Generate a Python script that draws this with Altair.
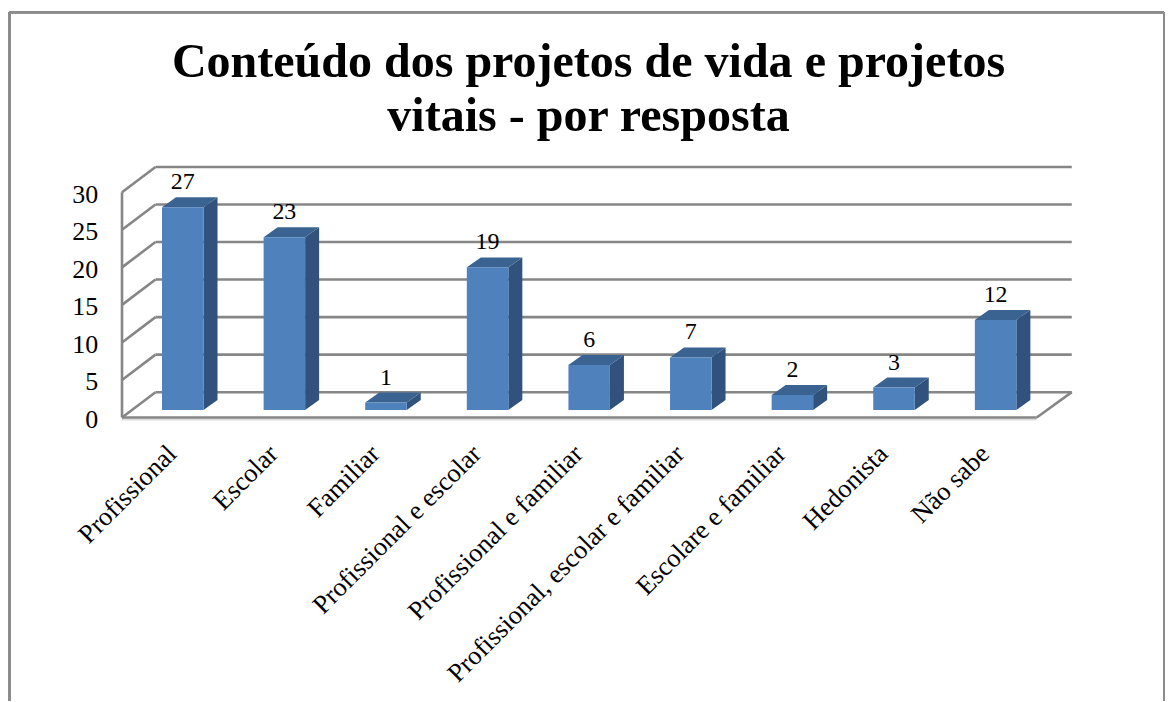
import json
import altair as alt
import pandas as pd

title_lines = ["Conteúdo dos projetos de vida e projetos", "vitais - por resposta"]
categories = ["Profissional", "Escolar", "Familiar", "Profissional e escolar",
              "Profissional e familiar", "Profissional, escolar e familiar",
              "Escolare e familiar", "Hedonista", "Não sabe"]
values = [27, 23, 1, 19, 6, 7, 2, 3, 12]
y_ticks = [0, 5, 10, 15, 20, 25, 30]

# page geometry -> scale mapping
W, H = 1161, 694
X0, PITCH = 182.75, 101.6   # page x of first bar centre, px per category
Y0, UNIT = 417.7, 7.533     # page y of value 0, px per unit
STRETCH = 0.9965
x_dom = [(8 - X0) / PITCH, (8 + W * STRETCH - X0) / PITCH]
y_dom = [(Y0 - (8 + H)) / UNIT, (Y0 - 8) / UNIT]
xs = alt.Scale(domain=x_dom, nice=False, zero=False, padding=0)
ys = alt.Scale(domain=y_dom, nice=False, zero=False, padding=0)

half = 20.75 / PITCH            # half bar width
base = 1.0                      # front face starts above floor line
ddx, ddy = 14 / PITCH, 10 / UNIT    # bar depth
wall_dx, wall_dy = 35 / PITCH, 25.4 / UNIT  # wall depth
left = (122 - X0) / PITCH
right = (1036.7 - X0) / PITCH

GRID = "#868686"
GRID_W = 2.6
FRAME = "#8C8C8C"
FONT = "Liberation Serif"

# faces
bars = pd.DataFrame({"i": range(len(values)), "cat": categories, "v": values})
bars["x0"] = bars.i - half
bars["x1"] = bars.i + half
bars["top"] = bars.v + base
bars["base"] = base
bars["label_y"] = bars.top + ddy

side = pd.concat([
    pd.DataFrame({"cat": categories, "x": bars.x1, "lo": bars.base, "hi": bars.top}),
    pd.DataFrame({"cat": categories, "x": bars.x1 + ddx, "lo": bars.base + ddy, "hi": bars.top + ddy}),
])
topf = pd.concat([
    pd.DataFrame({"cat": categories, "y": bars.top, "a": bars.x0, "b": bars.x1}),
    pd.DataFrame({"cat": categories, "y": bars.top + ddy, "a": bars.x0 + ddx, "b": bars.x1 + ddx}),
])

# walls
back = pd.DataFrame({"t": y_ticks})
back["y"] = back.t + wall_dy
back["a"] = left + 33.5 / PITCH
back["b"] = right + wall_dx
diag = pd.concat([
    pd.DataFrame({"t": y_ticks, "x": left, "y": y_ticks}),
    pd.DataFrame({"t": y_ticks, "x": left + 33.5 / PITCH, "y": [t + wall_dy for t in y_ticks]}),
])
floor_r = pd.DataFrame({"x": [right, right + wall_dx], "y": [0, wall_dy]})
front = pd.DataFrame({"a": [left], "b": [right], "y": [0], "y2": [30]})

X = lambda f: alt.X(f, type="quantitative", scale=xs, title=None)
Y = lambda f: alt.Y(f, type="quantitative", scale=ys, title=None)

names_expr = json.dumps(categories) + "[datum.value]"

axes_x = alt.Chart(bars).mark_point(opacity=0).encode(
    x=alt.X("i:Q", scale=xs, title=None, axis=alt.Axis(
        values=list(range(len(values))), labelExpr=names_expr, labelAngle=-45,
        labelAlign="right", labelBaseline="middle", labelFont=FONT, labelFontSize=26.5,
        labelColor="#000000", labelPadding=32, labelOffset=-11, labelOverlap=False,
        labelBound=False, labelFlush=False, labelLimit=600,
        domain=False, ticks=False, grid=False, offset=-(8 + H - Y0))),
    y=alt.Y("v:Q", scale=ys, title=None, axis=alt.Axis(
        values=y_ticks, labelFont=FONT, labelFontSize=26, labelColor="#000000",
        labelPadding=24, labelOffset=2, labelOverlap=False, labelBound=False, labelFlush=False,
        domain=False, ticks=False, grid=False, offset=-(122 - 8))),
)

layers = [
    axes_x,
    alt.Chart(back).mark_rule(color=GRID, strokeWidth=GRID_W).encode(x=X("a"), x2="b", y=Y("y")),
    alt.Chart(diag).mark_line(color=GRID, strokeWidth=GRID_W).encode(x=X("x"), y=Y("y"), detail="t:N"),
    alt.Chart(floor_r).mark_line(color=GRID, strokeWidth=GRID_W).encode(x=X("x"), y=Y("y")),
    alt.Chart(front).mark_rule(color="#DCDCDC", strokeWidth=2, yOffset=2).encode(x=X("a"), x2="b", y=Y("y")),
    alt.Chart(front).mark_rule(color=GRID, strokeWidth=GRID_W).encode(x=X("a"), x2="b", y=Y("y")),
    alt.Chart(front).mark_rule(color=GRID, strokeWidth=GRID_W).encode(x=X("a"), y=Y("y"), y2="y2"),
    alt.Chart(side).mark_area(color="#31527C", interpolate="linear").encode(
        x=X("x"), y=alt.Y("lo:Q", scale=ys, title=None, stack=None), y2="hi", detail="cat:N"),
    alt.Chart(topf).mark_area(color="#3B6391", orient="horizontal", interpolate="linear").encode(
        y=Y("y"), x=alt.X("a:Q", scale=xs, title=None, stack=None), x2="b", detail="cat:N"),
    alt.Chart(bars).mark_rect(color="#4F81BD").encode(x=X("x0"), x2="x1", y=Y("base"), y2="top"),
    alt.Chart(bars).mark_text(font=FONT, fontSize=24, color="#000000", baseline="alphabetic", dy=-8).encode(
        x=X("i"), y=Y("label_y"), text="v:Q"),
    # outer frame of the chart object
    alt.Chart(bars).mark_rule(color=FRAME, strokeWidth=2).encode(
        x=alt.value(1.5), y=alt.value(3), y2=alt.value(H)),
    alt.Chart(bars).mark_rule(color=FRAME, strokeWidth=2).encode(
        x=alt.value(1160), y=alt.value(3), y2=alt.value(H)),
    alt.Chart(bars).mark_rule(color=FRAME, strokeWidth=2).encode(
        x=alt.value(1.5), x2=alt.value(1160), y=alt.value(3)),
]

chart = alt.layer(*layers).properties(
    width=W, height=H, padding=0, autosize=alt.AutoSizeParams(type="none"),
    title=alt.TitleParams(text=title_lines, anchor="middle", font=FONT, fontSize=48.2,
                          fontWeight="bold", color="#000000", baseline="alphabetic",
                          offset=0, dy=170, dx=2, lineHeight=54),
).configure_view(stroke=None)

chart.save("out.html", embed_options={"renderer": "svg", "actions": False})
